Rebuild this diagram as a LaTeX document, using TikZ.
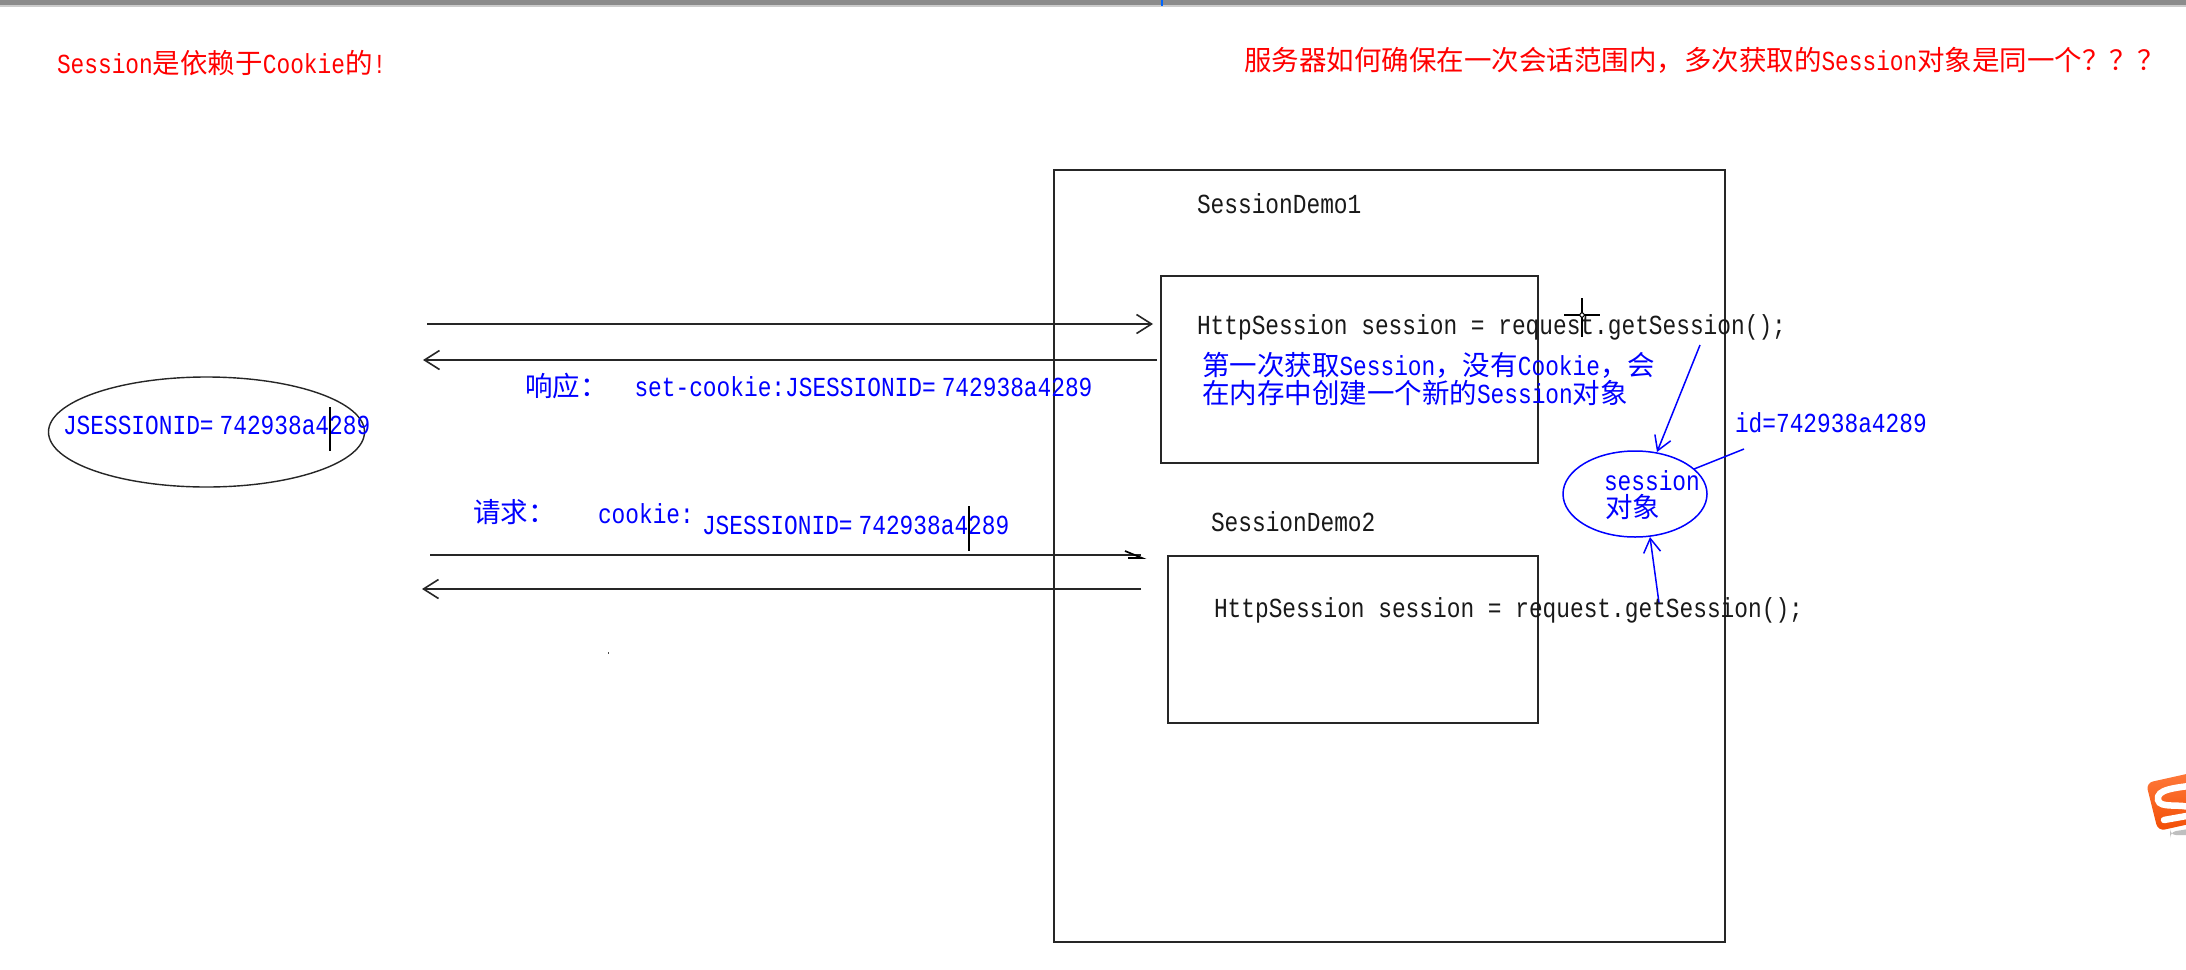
\documentclass[tikz,border=0pt]{standalone}
\usepackage{fontspec}
\setmainfont[FakeStretch=0.83]{Liberation Mono}
\newfontfamily\cjfont{Noto Sans CJK SC}
\newcommand{\zh}[1]{{\cjfont #1}}
\newcommand{\idgap}{\hspace{6pt}}
\usetikzlibrary{arrows.meta}
\definecolor{logoA}{HTML}{FF7A3C}
\definecolor{logoB}{HTML}{F24E05}
\tikzset{
  txt/.style={inner sep=0pt,outer sep=0pt,anchor=base west,font=\fontsize{27.5}{28}\selectfont},
  redtxt/.style={txt,text=red},
  bluetxt/.style={txt,text=blue},
  blacktxt/.style={txt,text=black!90},
  boxnode/.style={draw=black!85,line width=1.7pt,inner sep=0pt,outer sep=0pt,anchor=north west},
  ovalnode/.style={ellipse,inner sep=0pt,outer sep=0pt},
  flow/.style={draw=black!85,line width=1.9pt,-{Straight Barb[length=15pt,width=19pt,line width=1.6pt]}},
  plainflow/.style={draw=black!85,line width=1.9pt},
  blueflow/.style={draw=blue,line width=1.5pt,-{Straight Barb[length=14pt,width=17pt,line width=1.5pt]}},
  blueline/.style={draw=blue,line width=1.5pt},
  caret/.style={draw=black,line width=1.5pt},
}
\usetikzlibrary{shapes.geometric}
\begin{document}
\begin{tikzpicture}[x=1pt,y=-1pt]
\useasboundingbox (0,0) rectangle (2186,969);
\fill[white] (0,0) rectangle (2186,969);
% window strip at the top
\fill[black!45] (0,0) rectangle (2186,4.5);
\fill[black!20] (0,4.5) rectangle (2186,6.5);
\fill[blue!60!cyan] (1161,0) rectangle (1163,6);

% boxes
\node[boxnode,minimum width=671pt,minimum height=772pt] (server) at (1054,170) {};
\node[boxnode,minimum width=377pt,minimum height=187pt] (demoA) at (1161,276) {};
\node[boxnode,minimum width=370pt,minimum height=167pt] (demoB) at (1168,556) {};
\node[ovalnode,draw=black!85,line width=1.4pt,minimum width=316pt,minimum height=110pt] (cookie) at (206.5,432) {};
\node[ovalnode,draw=blue,line width=1.5pt,minimum width=144pt,minimum height=86pt] (sess) at (1635,494) {};

% end points of the connectors
\coordinate (a1) at (427,324);  \coordinate (a2) at (1153,324);
\coordinate (b1) at (1157,360); \coordinate (b2) at (423,360);
\coordinate (c1) at (430,555);  \coordinate (c2) at (1141,555);
\coordinate (d1) at (1141,589); \coordinate (d2) at (422,589);
\coordinate (e1) at (1700,345); \coordinate (e2) at (1657,452);
\coordinate (f1) at (1744,449); \coordinate (f2) at (1694,469);
\coordinate (g1) at (1659,603); \coordinate (g2) at (1650,537);
\coordinate (h1) at (1125,551); \coordinate (h2) at (1142,558); \coordinate (h3) at (1128,558);

\draw[flow] (a1) -- (a2);
\draw[flow] (b1) -- (b2);
\draw[plainflow] (c1) -- (c2);
\draw[draw=black,line width=1.7pt] (h1) -- (h2) -- (h3);
\draw[flow] (d1) -- (d2);
\draw[blueflow] (e1) -- (e2);
\draw[blueline] (f1) -- (f2);
\draw[blueflow] (g1) -- (g2);

% text
\node[redtxt] (t1) at (57,73) {Session\zh{是依赖于}Cookie\zh{的}!};
\node[redtxt] (t2) at (1244,70) {\zh{服务器如何确保在一次会话范围内，多次获取的}Session\zh{对象是同一个？？？}};
\node[blacktxt] (t3) at (1197,213) {SessionDemo1};
\node[blacktxt] (t4) at (1197,334) {HttpSession session = request.getSession();};
\node[bluetxt] (t5) at (1202,375) {\zh{第一次获取}Session\zh{，没有}Cookie\zh{，会}};
\node[bluetxt] (t6) at (1202,403) {\zh{在内存中创建一个新的}Session\zh{对象}};
\node[bluetxt] (t7) at (1735,432) {id=742938a4289};
\node[bluetxt] (t8) at (1604,490) {session};
\node[bluetxt] (t9) at (1605,517) {\zh{对象}};
\node[blacktxt] (t10) at (1211,531) {SessionDemo2};
\node[blacktxt] (t11) at (1214,617) {HttpSession session = request.getSession();};
\node[bluetxt] (t12) at (473,522) {\zh{请求：}};
\node[bluetxt] (t13) at (598,523) {cookie:};
\node[bluetxt] (t14) at (702,534) {JSESSIONID=\idgap 742938a4289};
\node[bluetxt] (t15) at (63,434) {JSESSIONID=\idgap 742938a4289};
\node[bluetxt] (t16) at (525,396) {\zh{响应：}\hspace{27pt}set-cookie:JSESSIONID=\idgap 742938a4289};

% text cursors and mouse cross
\draw[caret] (330,407) -- (330,451);
\draw[caret] (969,506) -- (969,551);
\draw[caret] (1582,298) -- (1582,337);
\draw[caret] (1564,315) -- (1600,315);
\draw[black,line width=1pt,fill=white] (1582,315) circle (2.2);
\fill[black!70] (607.5,652) rectangle (609,654);

% orange badge at the right edge
\begin{scope}
\clip (2100,740) rectangle (2186,850);
\fill[black!25,rounded corners=6pt] (2170,832) -- (2195,828) -- (2195,835) -- (2170,835) -- cycle;
\shade[top color=logoA,bottom color=logoB,rounded corners=7pt]
  (2146,783) -- (2200,771) -- (2212,819) -- (2158,831) -- cycle;
\draw[white,line width=6.5pt,line cap=round]
  (2196,785) .. controls (2175,788) and (2156,789) .. (2158,800)
  .. controls (2160,809) and (2180,803) .. (2192,808);
\draw[white,line width=6.5pt,line cap=round]
  (2164,820) -- (2192,815);
\end{scope}
\end{tikzpicture}
\end{document}
